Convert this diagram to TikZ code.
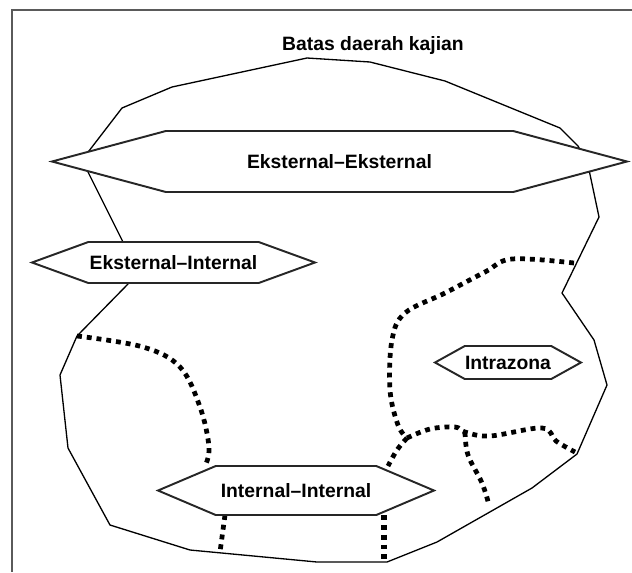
\documentclass[tikz,border=0pt]{standalone}
\usepackage{fontspec}
\setmainfont{Liberation Sans}
\usetikzlibrary{shapes.symbols,backgrounds}

\begin{document}
\begin{tikzpicture}[
    x=0.2mm, y=-0.2mm,
    font=\bfseries\fontsize{11}{13}\selectfont,
    zone/.style={
        signal,
        signal to=west and east,
        signal pointer angle=#1,
        draw=black!85,
        fill=white,
        line width=1.1pt,
        inner sep=0pt
    },
    border/.style={
        line width=0.75pt,
        line join=round
    },
    cutline/.style={
        line width=2.7pt,
        dash pattern=on 2.8pt off 2.8pt
    },
    frameline/.style={
        line width=0.6pt,
        draw=framegray
    }
]

\definecolor{framegray}{RGB}{90,90,90}

\useasboundingbox (0,0) rectangle (632,572);

% Frame
\draw[frameline] (632,10) -- (12,10) -- (12,572);

% Title
\node (title) at (373,45) {Batas daerah kajian};

% Trip types
\node[zone=30, minimum width=115mm, minimum height=12.2mm] (extext) at (339.5,161.5) {Eksternal--Eksternal};
\node[zone=40, minimum width=56.6mm, minimum height=8.2mm] (extint) at (173.5,262.5) {Eksternal--Internal};
\node[zone=46, minimum width=55.2mm, minimum height=9.8mm] (intint) at (296,490.5) {Internal--Internal};
\node[zone=58, minimum width=29.2mm, minimum height=6.6mm] (intra) at (508,362.5) {Intrazona};

\begin{scope}[on background layer]
% Study area boundary
\draw[border] (307,58) -- (370,62) -- (445,81) -- (560,128) -- (578,146) -- (588,165)
    -- (599,217) -- (562,293) -- (594,340) -- (607,385) -- (577,454) -- (532,488)
    -- (437,542) -- (387,562) -- (317,562) -- (190,550) -- (110,525) -- (68,448)
    -- (60,375) -- (77,336) -- (128,284) -- (123,242) -- (82,160) -- (122,108)
    -- (172,87) -- cycle;

% Zone borders
\coordinate (split) at (407,438);
\coordinate (fork) at (465,432);
\draw[cutline] plot[smooth, tension=0.6] coordinates {(77,336) (143,347) (180,367) (200,407) (209,447) (205,466)};
\draw[cutline] plot[smooth, tension=0.6] coordinates {(574,263) (512,259) (485,272) (445,293) (405,313) (392,340) (390,390) (398,425) (split)};
\draw[cutline] plot[smooth, tension=0.6] coordinates {(split) (397,450) (388,466)};
\draw[cutline] plot[smooth, tension=0.6] coordinates {(split) (430,429) (455,427) (fork) (490,436) (542,428) (556,441) (575,452)};
\draw[cutline] plot[smooth, tension=0.6] coordinates {(fork) (468,455) (482,483) (489,505)};
\draw[cutline] (225,515) -- (220,552);
\draw[cutline, line width=3.2pt] (384,515) -- (384,560);
\end{scope}

\end{tikzpicture}
\end{document}
